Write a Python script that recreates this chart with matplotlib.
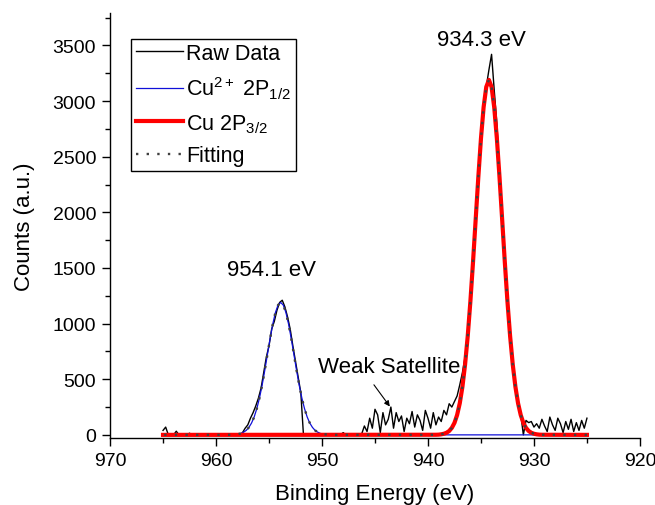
import numpy as np
import matplotlib
matplotlib.use("Agg")
import matplotlib.pyplot as plt
from matplotlib.ticker import MultipleLocator

plt.rcParams['font.family'] = ['Liberation Sans', 'DejaVu Sans']
plt.rcParams['mathtext.fontset'] = 'custom'
plt.rcParams['mathtext.rm'] = 'Liberation Sans'
plt.rcParams['mathtext.it'] = 'Liberation Sans:italic'
plt.rcParams['mathtext.bf'] = 'Liberation Sans:bold'

# ---------------- data ----------------
# raw spectrum, binding energy 925 -> 965 eV in 0.25 eV steps
raw_energy = np.arange(925.0, 965.001, 0.25)
raw_counts = [
    150, 60, 130, 40, 110, 30, 140, 50, 120, 20,          # 925.00 - 927.25
    100, 150, 40, 90, 160, 30, 80, 140, 60, 100,          # 927.50 - 929.75
    70, 120, 110, 130, 0, 190, 300, 420, 640, 900,        # 930.00 - 932.25
    1180, 1600, 1980, 2380, 2800, 3100, 3420, 3280, 3130, 2900,  # 932.50 - 934.75
    2600, 2350, 1880, 1500, 1230, 920, 700, 560, 450, 350,       # 935.00 - 937.25
    300, 250, 280, 180, 220, 120, 160, 90, 200, 60,       # 937.50 - 939.75
    150, 220, 40, 130, 180, 70, 210, 100, 150, 30,        # 940.00 - 942.25
    170, 120, 200, 60, 250, 140, 90, 200, 20, 180,        # 942.50 - 944.75
    230, 60, 150, 30, 80, 10, 0, 0, 0, 0,                 # 945.00 - 947.25
    0, 0, 20, 0, 0, 0, 0, 0, 0, 0,                        # 947.50 - 949.75
    0, 0, 0, 0, 0, 0, 0, 0, 380, 520,                     # 950.00 - 952.25
    660, 800, 950, 1060, 1150, 1210, 1190, 1120, 1020, 950,  # 952.50 - 954.75
    800, 700, 560, 420, 330, 260, 200, 150, 90, 60,       # 955.00 - 957.25
    20, 0, 0, 0, 0, 0, 0, 0, 0, 0,                        # 957.50 - 959.75
    0, 0, 0, 0, 0, 0, 0, 0, 0, 0,                         # 960.00 - 962.25
    15, 0, 0, 0, 0, 33, 0, 0, 0, 70,                      # 962.50 - 964.75
    40,                                                   # 965.00
]

# Cu 2P3/2 fitted component (centre 934.25 eV), energies 929.25 -> 939.25
red_energy = np.arange(929.25, 939.251, 0.25)
red_fit = [1, 2, 5, 10, 19, 35, 63, 108, 179, 284, 432, 632, 887, 1197,
           1553, 1935, 2316, 2664, 2945, 3127, 3190, 3127, 2945, 2664, 2316,
           1935, 1553, 1197, 887, 632, 432, 284, 179, 108, 63, 35, 19, 10,
           5, 2, 1]

# Cu2+ 2P1/2 fitted component (centre 953.9 eV), energies 948.9 -> 958.9
blue_energy = np.arange(948.9, 958.901, 0.25)
blue_fit = [0, 1, 2, 4, 7, 13, 24, 40, 67, 106, 161, 236, 331, 446,
            580, 722, 864, 994, 1098, 1166, 1190, 1166, 1098, 994, 864,
            722, 580, 446, 331, 236, 161, 106, 67, 40, 24, 13, 7, 4, 2, 1, 0]

range_lo, range_hi = 925.0, 965.0

# full-range component curves
red_x = np.concatenate([[range_lo], red_energy, [range_hi]])
red_y = np.concatenate([[0], red_fit, [0]])
blue_x = np.concatenate([[range_lo], blue_energy, [range_hi]])
blue_y = np.concatenate([[0], blue_fit, [0]])
# total fitting envelope (components do not overlap)
fit_x = np.concatenate([[range_lo], red_energy, blue_energy, [range_hi]])
fit_y = np.concatenate([[0], red_fit, blue_fit, [0]])

# ---------------- figure ----------------
fig = plt.figure(figsize=(6.55, 5.06), dpi=100)
ax = fig.add_axes([0.168, 0.132, 0.809, 0.840])

l_raw, = ax.plot(raw_energy, raw_counts, color='black', lw=1.0, label='Raw Data', zorder=2)
l_blue, = ax.plot(blue_x, blue_y, color='#1010d8', lw=0.9, label='Cu$^{2+}$ 2P$_{1/2}$', zorder=3)
l_red, = ax.plot(red_x, red_y, color='#ff0000', lw=3.0, label='Cu 2P$_{3/2}$', zorder=4)
l_fit, = ax.plot(fit_x, fit_y, color='#404040', lw=1.7, ls=(0, (1, 3.5)), label='Fitting', zorder=5)

ax.set_xlim(970, 920)
ax.set_ylim(-30, 3790)

ax.xaxis.set_major_locator(MultipleLocator(10))
ax.xaxis.set_minor_locator(MultipleLocator(5))
ax.yaxis.set_major_locator(MultipleLocator(500))
ax.yaxis.set_minor_locator(MultipleLocator(250))

for s in ['top', 'right']:
    ax.spines[s].set_visible(False)
for s in ['left', 'bottom']:
    ax.spines[s].set_linewidth(1.0)

ax.tick_params(axis='both', which='major', direction='out', length=6, width=1.0,
               labelsize=14, pad=4)
ax.tick_params(axis='both', which='minor', direction='out', length=3.5, width=1.0)

ax.set_xlabel('Binding Energy (eV)', fontsize=16, labelpad=10)
ax.set_ylabel('Counts (a.u.)', fontsize=16, labelpad=13)

ax.text(935.0, 3555, '934.3 eV', fontsize=16, ha='center', va='center')
ax.text(954.8, 1490, '954.1 eV', fontsize=16, ha='center', va='center')
ax.text(943.7, 610, 'Weak Satellite', fontsize=16, ha='center', va='center')
ax.annotate('', xy=(943.6, 255), xytext=(945.1, 450),
            arrowprops=dict(arrowstyle='-|>', color='black', lw=0.8,
                            mutation_scale=8, shrinkA=0, shrinkB=0))

leg = ax.legend(handles=[l_raw, l_blue, l_red, l_fit], loc='upper left',
                bbox_to_anchor=(0.04, 0.94), fontsize=15.5, frameon=True,
                fancybox=False, edgecolor='black', framealpha=1,
                handlelength=2.2, handletextpad=0.15, labelspacing=0.5,
                borderpad=0.2, borderaxespad=0)
leg.get_frame().set_linewidth(1.0)

fig.savefig('out.png', dpi=100)
